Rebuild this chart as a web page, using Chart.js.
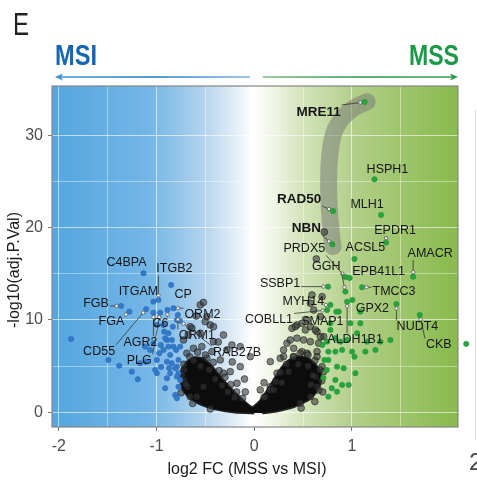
<!DOCTYPE html>
<html>
<head>
<meta charset="utf-8">
<script src="https://cdn.jsdelivr.net/npm/chart.js@4"></script>
<style>
  html, body { margin: 0; padding: 0; background: #ffffff; }
  canvas { display: block; }
</style>
</head>
<body>
<canvas id="c" width="477" height="481"></canvas>
<script>
// ---------------- DATA ----------------
// axis ticks / gridlines
const xGridValues = [-2, -1.5, -1, -0.5, 0, 0.5, 1, 1.5];
const yGridValues = [0, 5, 10, 15, 20, 25, 30];

// non-significant proteins (grey), log2 FC / -log10(adj.P)
const greyX = [-0.553,-0.485,-0.656,-0.553,-0.451,-0.417,-0.433,-0.280,-0.348,-0.724,-0.690,-0.622,-0.536,-0.485,-0.717,-0.717,-0.683,-0.656,-0.587,-0.519,-0.246,-0.177,-0.143,-0.315,-0.502,-0.417,-0.315,-0.229,-0.143,-0.041,-0.520,-0.638,-0.594,-0.676,-0.369,-0.225,
  0.386,0.437,0.489,0.540,0.574,0.642,0.335,0.437,0.505,0.659,0.710,0.300,0.403,0.540,0.642,0.233,0.164,0.113,0.710,0.591,0.694,0.574,0.608,0.676,0.420,0.523,0.625,0.676,0.369,0.574,0.300,0.403,0.266,0.489,0.642,0.164,0.694,0.625,0.642,0.574,0.471,0.635,0.717,0.061,-0.092,
  -0.750,-0.630,-0.450,0.700,0.620,0.480,-0.100,0.100,
  -0.74,-0.72,-0.66,-0.58,-0.50,-0.42,-0.36,-0.30,-0.24,-0.18,-0.12,-0.70,-0.62,-0.55,-0.46,-0.40,-0.33,-0.27,-0.20,
  0.10,0.16,0.22,0.27,0.33,0.40,0.47,0.55,0.62,0.67,0.69,0.66,0.20,0.28,0.35,0.45,0.55,0.60,0.58];
const greyY = [11.63,10.36,9.27,8.56,9.46,7.65,6.57,6.75,5.67,7.83,6.39,6.93,7.11,5.85,4.58,3.50,2.77,1.69,1.69,2.77,4.40,3.14,4.94,4.23,9.82,9.27,8.37,7.29,7.11,6.02,11.90,9.10,10.43,8.37,7.62,5.45,
  9.10,9.46,9.64,10.00,9.27,8.73,7.48,8.02,7.83,7.48,8.19,6.02,6.02,6.39,6.02,4.23,2.77,1.69,4.40,12.71,12.52,11.81,11.08,10.36,9.27,8.92,8.92,8.19,7.83,7.65,6.75,6.93,5.85,6.57,6.57,5.48,4.94,3.86,2.77,1.69,0.98,16.61,19.53,2.42,2.20,
  2.10,0.95,0.35,2.20,1.15,0.45,3.60,3.20,
  4.0,5.2,6.0,6.5,6.2,5.4,4.5,3.8,3.0,2.2,1.5,3.0,5.6,5.0,4.6,3.6,2.9,2.2,1.6,
  1.6,2.4,3.3,4.3,5.2,6.0,6.4,6.2,5.6,4.6,3.4,2.4,2.4,3.2,4.4,5.2,5.0,4.0,3.0];

// outline of the densely packed non-significant core (near FC = 0)
const coreX = [0,-0.195,-0.40,-0.553,-0.656,-0.727,-0.752,-0.740,-0.690,-0.615,-0.530,-0.450,-0.370,-0.290,-0.200,-0.110,-0.020,0.060,0.140,0.215,0.290,0.370,0.460,0.550,0.620,0.670,0.680,0.640,0.550,0.410,0.225,0.082];
const coreY = [-0.08,0.03,0.36,0.90,1.55,2.41,3.50,4.60,5.40,5.90,5.80,5.10,4.10,3.10,2.10,1.20,0.50,1.20,2.40,3.70,4.90,5.70,6.00,5.80,5.20,4.40,3.40,2.30,1.35,0.65,0.14,-0.08];

// higher in MSI (blue), unlabelled
const blueX = [-1.875,-1.493,-1.383,-1.253,-1.192,-0.997,-0.929,-0.922,-0.878,-0.894,-0.843,-0.827,-0.878,-0.799,-0.929,-0.973,-1.066,-0.997,-0.894,-0.843,-0.792,-0.776,-0.997,-0.894,-0.792,-0.758,-0.776,-0.809,-0.792,-0.912,-0.956,-1.032,-1.117,-1.107,-1.168,-0.833,-0.792,-0.912,-0.758,-0.861,-0.776,-0.809,-0.861,-1.014,-0.953,-0.871];
const blueY = [7.94,5.67,5.05,4.40,3.58,9.46,9.46,8.73,8.56,7.83,7.83,7.11,7.11,6.75,6.75,6.39,6.75,5.67,5.48,5.31,4.94,4.23,4.23,3.68,3.86,3.50,2.77,1.87,1.52,8.02,7.29,7.48,7.11,5.48,5.31,9.27,10.00,2.60,7.11,6.21,5.67,4.77,4.23,4.59,4.91,4.80];

// higher in MSS (green), unlabelled (last one lies beyond the panel's right edge)
const greenX = [0.864,0.779,0.779,0.745,0.881,0.950,1.086,1.052,1.155,1.240,0.758,0.830,0.899,1.001,0.758,0.847,0.915,1.035,0.742,0.830,0.899,0.966,0.758,0.793,1.291,1.393,1.137,1.025,0.847,0.984,0.830,1.086,0.697,0.707,0.717,2.169];
const greenY = [10.90,9.64,8.92,7.65,7.65,7.83,9.64,8.56,7.65,6.75,6.57,6.57,6.75,6.57,5.67,4.94,4.77,4.23,4.58,3.50,2.96,2.96,1.69,2.60,7.65,7.83,6.57,6.02,2.23,9.64,8.02,10.90,7.29,3.72,5.67,7.41];

// labelled proteins
const labelNames = ['C4BPA','ITGB2','ITGAM','CP','FGB','FGA','CD55','AGR2','PLG','C6','ORM2','ORM1','RAB27B',
  'MRE11','HSPH1','RAD50','MLH1','NBN','EPDR1','PRDX5','ACSL5','AMACR','EPB41L1','GGH','SSBP1','TMCC3','MYH14','GPX2','COBLL1','SMAP1','ALDH1B1','NUDT4','CKB'];
const labelX = [-1.134,-0.981,-1.032,-0.850,-1.363,-1.278,-1.107,-1.032,-0.963,-0.888,-0.827,-0.782,-0.760,
  1.130,1.230,0.806,1.298,0.799,1.349,0.932,1.025,1.626,0.976,0.932,0.755,1.103,0.779,1.004,0.745,0.840,0.950,1.455,1.694];
const labelY = [15.06,12.17,11.98,13.79,11.52,10.90,11.16,10.79,10.79,11.08,11.27,10.54,9.90,
  33.62,25.24,21.81,21.38,18.20,18.38,14.66,16.61,14.69,14.55,13.07,13.61,13.54,11.63,12.17,11.08,10.90,11.98,11.73,10.54];
const boldNames = ['MRE11','RAD50','NBN'];

// MRN complex highlight path
const bandX = [1.155,1.017,0.899,0.814,0.772,0.761,0.772,0.789,0.806];
const bandY = [33.65,32.94,31.85,30.23,27.69,24.44,21.56,19.39,17.94];

// ---------------- LAYOUT / STYLE (pixel offsets of label text from their points) ----------------
const labelOffsets = [[-17,-11],[16,-31],[-15,-10],[12,10],[-25,-2],[-18,10],[-47,42],[-13,30],[-21,48],[-7,14],[29,6],[19,21],[57,32],
  [-46,10],[13,-10],[-34,-12],[-14,-10],[-26,-16],[9,-12],[-41,-28],[11,-11],[17,-23],[29,-6],[-19,-25],[-48,-3],[32,4],[-27,-3],[20,9],[-58,10],[-14,10],[8,38],[21,23],[19,30]];

const FONT = "'Liberation Sans', Arial, Helvetica, sans-serif";
const GREEN_FILL = 'rgb(38,165,62)', GREEN_EDGE = 'rgb(30,145,50)';
const pairs = (xs, ys) => xs.map((v, i) => ({x: v, y: ys[i]}));

const labBlue = [], labGreen = [];
labelX.forEach((v, i) => (v < 0 ? labBlue : labGreen).push({x: v, y: labelY[i]}));

// ---------------- PLUGINS ----------------
const bgPlugin = {
  id: 'bg',
  beforeDraw(chart) {
    const {ctx, chartArea: a} = chart;
    const g = ctx.createLinearGradient(a.left, 0, a.right, 0);
    g.addColorStop(0.00, 'rgb(84,166,224)');
    g.addColorStop(0.24, 'rgb(116,182,230)');
    g.addColorStop(0.365, 'rgb(174,209,237)');
    g.addColorStop(0.45, 'rgb(226,237,247)');
    g.addColorStop(0.495, 'rgb(255,255,255)');
    g.addColorStop(0.545, 'rgb(240,245,230)');
    g.addColorStop(0.61, 'rgb(214,229,190)');
    g.addColorStop(0.735, 'rgb(180,208,140)');
    g.addColorStop(0.86, 'rgb(158,197,108)');
    g.addColorStop(1.00, 'rgb(136,186,76)');
    ctx.save();
    ctx.fillStyle = g;
    ctx.fillRect(a.left, a.top, a.right - a.left, a.bottom - a.top);
    ctx.restore();
  },
  afterDraw(chart) {
    const {ctx, chartArea: a, scales: {x, y}} = chart;
    ctx.save();
    ctx.strokeStyle = '#858585';
    ctx.lineWidth = 1.2;
    ctx.strokeRect(a.left, a.top, a.right - a.left, a.bottom - a.top);
    // points that fall beyond the panel edge (Chart.js skips them), placed through the scales
    ctx.fillStyle = GREEN_FILL;
    ctx.strokeStyle = GREEN_EDGE;
    ctx.lineWidth = 0.5;
    greenX.forEach((v, i) => {
      if (v > x.max) {
        ctx.beginPath();
        ctx.arc(x.getPixelForValue(v), y.getPixelForValue(greenY[i]), 2.7, 0, Math.PI * 2);
        ctx.fill(); ctx.stroke();
      }
    });
    ctx.restore();
  }
};

const labelPlugin = {
  id: 'labels',
  afterDatasetsDraw(chart) {
    const {ctx, scales: {x, y}} = chart;
    ctx.save();
    labelNames.forEach((name, i) => {
      const px = x.getPixelForValue(labelX[i]);
      const py = y.getPixelForValue(labelY[i]);
      const [dx, dy] = labelOffsets[i];
      const bold = boldNames.includes(name);
      ctx.font = (bold ? 'bold 13.5px ' : '12.5px ') + FONT;
      const w = ctx.measureText(name).width, h = bold ? 12 : 11;
      const cx = px + dx, cy = py + dy;
      const bx = Math.max(cx - w / 2 - 1, Math.min(px, cx + w / 2 + 1));
      const by = Math.max(cy - h / 2 - 1, Math.min(py, cy + h / 2 + 1));
      const len = Math.hypot(bx - px, by - py);
      if (len > 5) {
        const ux = (bx - px) / len, uy = (by - py) / len;
        ctx.strokeStyle = '#333';
        ctx.lineWidth = 0.8;
        ctx.beginPath();
        ctx.moveTo(px + ux * 6, py + uy * 6);
        ctx.lineTo(bx, by);
        ctx.stroke();
        ctx.beginPath();
        ctx.arc(px + ux * 4.5, py + uy * 4.5, 1.7, 0, Math.PI * 2);
        ctx.fillStyle = '#f4f4f4';
        ctx.fill();
        ctx.strokeStyle = '#555';
        ctx.stroke();
      }
      ctx.fillStyle = '#151515';
      ctx.textAlign = 'center';
      ctx.textBaseline = 'middle';
      ctx.fillText(name, cx, cy);
    });
    ctx.restore();
  }
};

function fitText(ctx, text, left, baseline, width, font, color) {
  ctx.save();
  ctx.font = font;
  const m = ctx.measureText(text).width;
  ctx.translate(left, baseline);
  ctx.scale(width / m, 1);
  ctx.fillStyle = color;
  ctx.textAlign = 'left';
  ctx.textBaseline = 'alphabetic';
  ctx.fillText(text, 0, 0);
  ctx.restore();
}

const decoPlugin = {
  id: 'deco',
  afterDraw(chart) {
    const {ctx} = chart;
    fitText(ctx, 'E', 13, 35, 16, '32px ' + FONT, '#222');
    fitText(ctx, 'MSI', 55, 65, 42, "bold 30px 'Liberation Sans Narrow', " + FONT, 'rgb(22,102,182)');
    fitText(ctx, 'MSS', 409, 65, 50, "bold 30px 'Liberation Sans Narrow', " + FONT, 'rgb(26,154,70)');
    // arrows
    ctx.save();
    ctx.lineWidth = 1.6;
    const gb = ctx.createLinearGradient(55, 0, 250, 0);
    gb.addColorStop(0, 'rgb(70,150,215)'); gb.addColorStop(0.5, 'rgb(35,115,195)'); gb.addColorStop(1, 'rgb(120,180,225)');
    ctx.strokeStyle = gb;
    ctx.beginPath(); ctx.moveTo(58, 77); ctx.lineTo(250, 77); ctx.stroke();
    ctx.fillStyle = 'rgb(60,145,210)';
    ctx.beginPath(); ctx.moveTo(55, 77); ctx.lineTo(63, 73.5); ctx.lineTo(61, 77); ctx.lineTo(63, 80.5); ctx.closePath(); ctx.fill();
    const gg = ctx.createLinearGradient(263, 0, 457, 0);
    gg.addColorStop(0, 'rgb(120,185,120)'); gg.addColorStop(0.5, 'rgb(40,150,70)'); gg.addColorStop(1, 'rgb(50,160,80)');
    ctx.strokeStyle = gg;
    ctx.beginPath(); ctx.moveTo(263, 77); ctx.lineTo(454, 77); ctx.stroke();
    ctx.fillStyle = 'rgb(40,155,75)';
    ctx.beginPath(); ctx.moveTo(458, 77); ctx.lineTo(450, 73.5); ctx.lineTo(452, 77); ctx.lineTo(450, 80.5); ctx.closePath(); ctx.fill();
    // faint neighbouring-panel edge
    ctx.strokeStyle = 'rgba(200,200,200,0.7)';
    ctx.lineWidth = 1;
    ctx.beginPath(); ctx.moveTo(475.5, 110); ctx.lineTo(475.5, 440); ctx.stroke();
    // axis titles
    ctx.fillStyle = '#1a1a1a';
    ctx.font = '16px ' + FONT;
    ctx.textAlign = 'center';
    ctx.textBaseline = 'middle';
    ctx.fillText('log2 FC (MSS vs MSI)', 247, 470);
    ctx.translate(15, 270);
    ctx.rotate(-Math.PI / 2);
    ctx.fillText('-log10(adj.P.Val)', 0, 0);
    ctx.restore();
    ctx.save();
    ctx.fillStyle = '#444';
    ctx.font = '24px ' + FONT;
    ctx.textBaseline = 'alphabetic';
    ctx.fillText('2', 469, 470);
    ctx.restore();
  }
};

// ---------------- CHART ----------------
const isMajorX = v => Number.isInteger(v);
const isMajorY = v => v % 10 === 0;

new Chart(document.getElementById('c'), {
  type: 'scatter',
  data: {
    datasets: [
      { label: 'MSS', data: pairs(greenX, greenY).concat(labGreen), order: 1,
        backgroundColor: GREEN_FILL, borderColor: GREEN_EDGE, borderWidth: 0.5, pointRadius: 2.7 },
      { label: 'MSI', data: pairs(blueX, blueY).concat(labBlue), order: 2,
        backgroundColor: 'rgb(52,122,200)', borderColor: 'rgb(40,105,180)', borderWidth: 0.5, pointRadius: 2.7 },
      { label: 'ns', data: pairs(greyX, greyY), order: 3,
        backgroundColor: 'rgba(55,55,55,0.6)', borderColor: 'rgba(10,10,10,0.6)', borderWidth: 0.8, pointRadius: 3.4 },
      { label: 'core', data: pairs(coreX, coreY), order: 4, showLine: true, fill: 'shape', tension: 0.15,
        backgroundColor: 'rgb(12,12,12)', borderColor: 'rgba(12,12,12,0.9)', borderWidth: 3, pointRadius: 0 },
      { label: 'MRN', data: pairs(bandX, bandY), order: 5, showLine: true, tension: 0.4,
        borderColor: 'rgba(115,115,115,0.5)', borderWidth: 17, borderCapStyle: 'round', borderJoinStyle: 'round',
        pointRadius: 0, backgroundColor: 'rgba(0,0,0,0)' }
    ]
  },
  options: {
    responsive: false,
    animation: false,
    events: [],
    layout: { padding: { top: 86, right: 19, left: 0, bottom: 0 } },
    plugins: { legend: { display: false }, tooltip: { enabled: false } },
    scales: {
      x: {
        type: 'linear', min: -2.07, max: 2.085,
        afterBuildTicks: s => { s.ticks = xGridValues.map(v => ({ value: v })); },
        afterFit: s => { s.height = 54; },
        border: { display: false },
        grid: {
          color: c => isMajorX(c.tick.value) ? 'rgba(255,255,255,0.6)' : 'rgba(255,255,255,0.4)',
          lineWidth: 1, tickLength: 4,
          tickColor: c => isMajorX(c.tick.value) ? '#777' : 'rgba(0,0,0,0)'
        },
        ticks: {
          autoSkip: false, maxRotation: 0, padding: 6, color: '#4d4d4d',
          font: { size: 16, family: FONT },
          callback: v => isMajorX(v) ? String(v) : ''
        }
      },
      y: {
        type: 'linear', min: -1.6, max: 35.35,
        afterBuildTicks: s => { s.ticks = yGridValues.map(v => ({ value: v })); },
        afterFit: s => { s.width = 52; },
        border: { display: false },
        grid: {
          color: c => isMajorY(c.tick.value) ? 'rgba(255,255,255,0.6)' : 'rgba(255,255,255,0.4)',
          lineWidth: 1, tickLength: 4,
          tickColor: c => isMajorY(c.tick.value) ? '#777' : 'rgba(0,0,0,0)'
        },
        ticks: {
          autoSkip: false, padding: 5, color: '#4d4d4d',
          font: { size: 16, family: FONT },
          callback: v => isMajorY(v) ? String(v) : ''
        }
      }
    }
  },
  plugins: [bgPlugin, labelPlugin, decoPlugin]
});
</script>
</body>
</html>
